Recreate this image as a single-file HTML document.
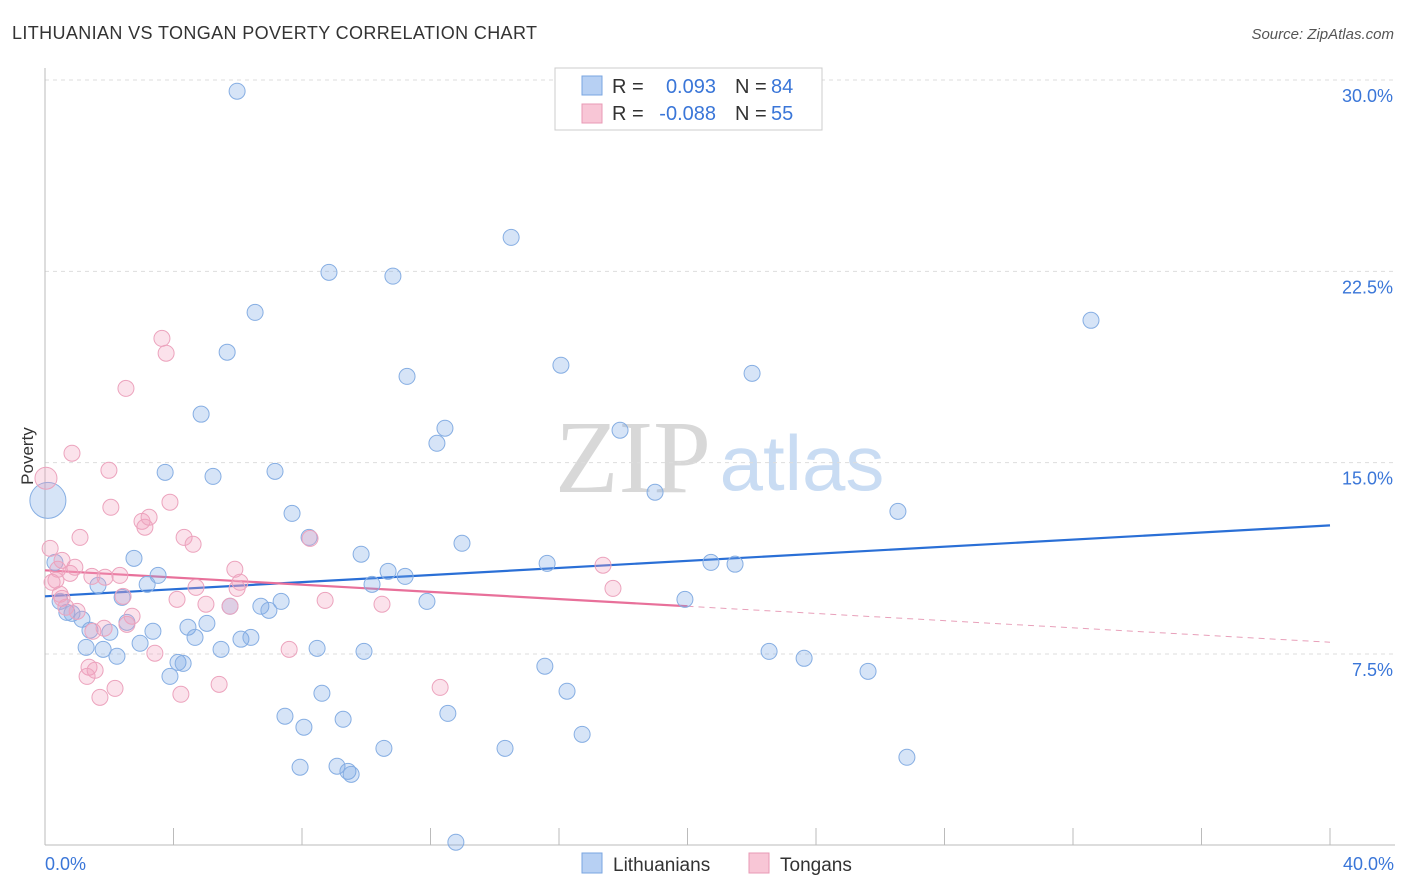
<!DOCTYPE html>
<html><head><meta charset="utf-8">
<style>
body{margin:0;background:#fff;font-family:"Liberation Sans",sans-serif;}
svg{display:block}
</style></head>
<body>
<svg id="chart" width="1406" height="892">
<text x="12" y="39" font-size="18" fill="#333" textLength="525">LITHUANIAN VS TONGAN POVERTY CORRELATION CHART</text>
<text x="1394" y="39" font-size="15" fill="#555" font-style="italic" text-anchor="end">Source: ZipAtlas.com</text>
<g>
<text x="633" y="492" font-size="104" fill="#d8d8d8" font-family="Liberation Serif" text-anchor="middle">ZIP</text>
<text x="802" y="490" font-size="78" fill="#c9dcf3" text-anchor="middle">atlas</text>
</g>
<g id="grid"></g>
<g id="axes"></g>
<g id="trend"></g>
<g id="points"></g>
<text x="33" y="456" font-size="17" fill="#333" transform="rotate(-90 33 456)" text-anchor="middle">Poverty</text>
<text x="45" y="870" font-size="18" fill="#3a76d8">0.0%</text>
<text x="1394" y="870" font-size="18" fill="#3a76d8" text-anchor="end">40.0%</text>
<g>
<rect x="555" y="68" width="267" height="62" fill="#fff" stroke="#ccc"/>
<rect x="582" y="76" width="20" height="19" fill="#b7d0f3" stroke="#7aa6e0"/>
<rect x="582" y="104" width="20" height="19" fill="#f8c6d6" stroke="#e89ab5"/>
<text x="612" y="93" font-size="20" fill="#333">R =</text>
<text x="716" y="93" font-size="20" fill="#3a76d8" text-anchor="end">0.093</text>
<text x="735" y="93" font-size="20" fill="#333">N =</text>
<text x="771" y="93" font-size="20" fill="#3a76d8">84</text>
<text x="612" y="120" font-size="20" fill="#333">R =</text>
<text x="716" y="120" font-size="20" fill="#3a76d8" text-anchor="end">-0.088</text>
<text x="735" y="120" font-size="20" fill="#333">N =</text>
<text x="771" y="120" font-size="20" fill="#3a76d8">55</text>
</g>
<g>
<rect x="582" y="853" width="20" height="20" fill="#b7d0f3" stroke="#7aa6e0"/>
<text x="613" y="871" font-size="19" fill="#333">Lithuanians</text>
<rect x="749" y="853" width="20" height="20" fill="#f8c6d6" stroke="#e89ab5"/>
<text x="780" y="871" font-size="19" fill="#333">Tongans</text>
</g>
</svg>
<script>
const yTicks=[7.5,15,22.5,30];
const yTickLabels=["7.5%","15.0%","22.5%","30.0%"];
const xTicks=[0,4,8,12,16,20,24,28,32,36,40];
const lithX=[5.98,14.51,8.84,10.83,6.54,32.56,5.67,16.06,11.27,22.01,4.86,12.45,12.20,17.90,3.74,5.23,7.16,18.99,7.69,26.55,8.22,12.98,2.77,9.84,15.63,20.73,21.48,10.68,11.21,3.52,10.18,3.18,1.65,0.31,0.09,0.47,0.68,0.84,1.15,2.40,6.72,7.35,5.76,6.97,11.89,19.92,1.40,2.02,2.55,3.36,4.45,5.04,4.67,6.10,6.41,1.28,1.81,2.24,2.96,5.48,8.47,9.93,22.54,23.63,4.14,4.30,3.89,15.56,25.62,8.62,16.25,7.47,8.06,9.28,12.54,10.55,14.32,16.72,26.83,7.94,9.09,9.43,9.53,12.79];
const lithY=[29.56,23.83,22.46,22.31,20.89,20.58,19.33,18.82,18.38,18.50,16.90,16.35,15.76,16.27,14.62,14.46,14.66,13.84,13.01,13.09,12.07,11.84,11.25,11.41,11.05,11.09,11.02,10.74,10.54,10.58,10.23,10.23,10.19,11.09,13.52,9.56,9.13,9.09,8.86,9.72,9.37,9.56,9.37,9.21,9.56,9.64,8.43,8.35,8.74,8.39,8.55,8.70,8.15,8.08,8.15,7.76,7.68,7.41,7.92,7.68,7.72,7.60,7.60,7.33,7.17,7.13,6.62,7.02,6.82,5.96,6.04,5.06,4.63,4.94,5.17,3.80,3.80,4.35,3.45,3.06,3.10,2.90,2.78,0.12];
const tongX=[0.03,0.16,0.34,0.40,0.84,1.09,0.78,0.93,1.46,1.99,2.05,2.33,1.87,2.52,3.64,3.77,3.89,3.02,3.11,3.24,4.33,4.61,4.70,4.11,5.01,5.91,6.07,5.98,5.76,8.72,10.49,17.37,17.68,8.25,0.53,0.65,1.00,1.49,1.84,2.71,2.55,2.43,3.42,1.37,1.56,1.31,2.18,1.71,4.23,5.42,7.60,12.30,0.53,0.22,0.47];
const tongY=[14.39,11.64,10.39,10.82,15.37,12.07,10.66,10.90,10.54,14.70,13.25,10.58,10.51,17.91,19.87,19.29,13.45,12.70,12.47,12.86,12.07,11.80,10.11,9.64,9.45,10.82,10.31,10.07,9.37,9.60,9.45,10.98,10.07,12.03,9.68,9.33,9.17,8.39,8.51,8.98,8.66,9.76,7.53,6.98,6.86,6.62,6.15,5.80,5.92,6.31,7.68,6.19,11.17,10.31,9.84];
const lithTrend=[9.76,12.54];
const tongTrend=[10.78,7.96];
const NS="http://www.w3.org/2000/svg";
const X=v=>45+v*32.125, Y=v=>845.3-v*25.51;
function mk(tag,attrs,parent){const e=document.createElementNS(NS,tag);for(const k in attrs)e.setAttribute(k,attrs[k]);document.getElementById(parent).appendChild(e);return e;}
yTicks.forEach((t,i)=>{
  const l=mk('line',{x1:45,x2:1395,y1:Y(t),y2:Y(t),stroke:'#ddd','stroke-dasharray':'4,4'},'grid');
  
  
  const tx=mk('text',{x:1393,y:Y(t)+22,'font-size':18,fill:'#3a76d8','text-anchor':'end'},'grid');
  tx.textContent=yTickLabels[i];
  
  
});
const ax=mk('line',{x1:45,x2:45,y1:68,y2:845,stroke:'#bbb'},'axes');


const bx=mk('line',{x1:45,x2:1395,y1:845,y2:845,stroke:'#bbb'},'axes');


xTicks.forEach(t=>{
  const l=mk('line',{x1:X(t),x2:X(t),y1:828,y2:845,stroke:'#bbb'},'axes');
  
  
});
lithX.forEach((x,i)=>{
  const big=(x<0.2&&lithY[i]>13);
  const c=mk('circle',{cx:X(x),cy:Y(lithY[i]),r:big?18:8,fill:'rgba(120,165,230,0.3)',stroke:'#86aee3','stroke-width':1},'points');
  
  
});
tongX.forEach((x,i)=>{
  const big=(x<0.1&&tongY[i]>14);
  const c=mk('circle',{cx:X(x),cy:Y(tongY[i]),r:big?11:8,fill:'rgba(242,160,190,0.3)',stroke:'#eca3bd','stroke-width':1},'points');
  
  
});
const bl=mk('line',{x1:X(0),y1:Y(lithTrend[0]),x2:X(40),y2:Y(lithTrend[1]),stroke:'#2a6fd6','stroke-width':2.2},'trend');


const pm=tongTrend[0]+(tongTrend[1]-tongTrend[0])*0.5;
const pl=mk('line',{x1:X(0),y1:Y(tongTrend[0]),x2:X(20),y2:Y(pm),stroke:'#e8709a','stroke-width':2.2},'trend');


const pd=mk('line',{x1:X(20),y1:Y(pm),x2:X(40),y2:Y(tongTrend[1]),stroke:'#e8a0ba','stroke-width':1,'stroke-dasharray':'6,5'},'trend');


</script>
</body></html>
